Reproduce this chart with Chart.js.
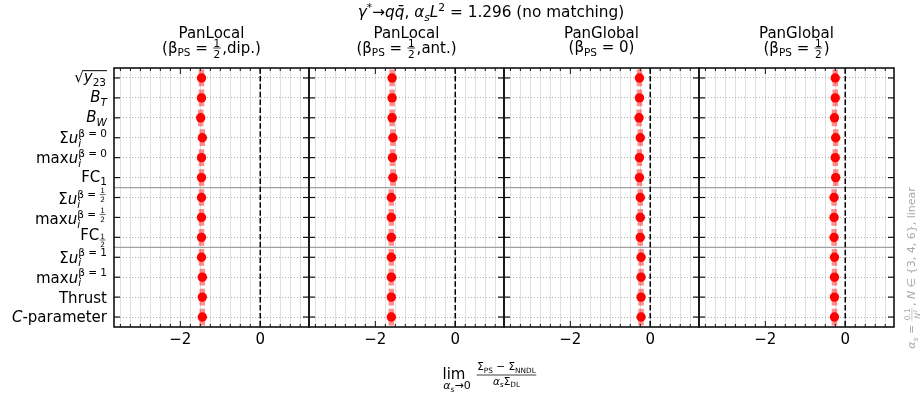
<!DOCTYPE html>
<html>
<head>
<meta charset="utf-8">
<script src="https://cdn.jsdelivr.net/npm/chart.js@4/dist/chart.umd.min.js"></script>
<style>
  html, body { margin: 0; padding: 0; background: #fff; }
  #wrap { position: relative; width: 922px; height: 394px; }
  #wrap canvas { position: absolute; left: 0; top: 0; }
</style>
</head>
<body>
<div id="wrap"></div>
<script>
// ~...~ = italique, _{..} indice, ^{..} exposant, √{..} racine, §{a}{b} fraction
const observables = [
    "√{~y~_{23}}", "~B~_{~T~}", "~B~_{~W~}",
    "Σ~u~_{~i~}^{β = 0}", "max~u~_{~i~}^{β = 0}", "FC_{1}",
    "Σ~u~_{~i~}^{β = §{1}{2}}", "max~u~_{~i~}^{β = §{1}{2}}", "FC_{§{1}{2}}",
    "Σ~u~_{~i~}^{β = 1}", "max~u~_{~i~}^{β = 1}", "Thrust", "~C~-parameter"
];
const groupSizes = [6, 3, 4];

const showers = ["PanLocal", "PanLocal", "PanGlobal", "PanGlobal"];
const showerOptions = ["(β_{PS} = §{1}{2},dip.)", "(β_{PS} = §{1}{2},ant.)", "(β_{PS} = 0)", "(β_{PS} = §{1}{2})"];

const panLocalDip   = [-1.47, -1.47, -1.49, -1.45, -1.47, -1.47, -1.47, -1.47, -1.47, -1.47, -1.45, -1.45, -1.45];
const panLocalAnt   = [-1.58, -1.58, -1.58, -1.56, -1.57, -1.56, -1.60, -1.60, -1.60, -1.60, -1.60, -1.60, -1.60];
const panGlobal0    = [-0.27, -0.27, -0.28, -0.25, -0.27, -0.27, -0.25, -0.25, -0.25, -0.23, -0.23, -0.23, -0.23];
const panGlobalHalf = [-0.25, -0.25, -0.27, -0.24, -0.25, -0.24, -0.28, -0.28, -0.28, -0.27, -0.27, -0.27, -0.27];
const series = [panLocalDip, panLocalAnt, panGlobal0, panGlobalHalf];

const xMin = -3.66, xMax = 1.22;
const xMajorTicks = [-2, 0];
const xMinorStep = 0.25;

const titre = "~γ~^{*}→~qq̄~, ~α~_{~s~}~L~^{2} = 1.296 (no matching)";
const noteCote = "~α~_{~s~} = §{0.1}{~N~^{2}}, ~N~ ∈ {3, 4, 6}, linear";
const titreX = "§{Σ_{PS} − Σ_{NNDL}}{~α~_{~s~}Σ_{DL}}";

const FONT = "'DejaVu Sans', sans-serif";
const GAUCHE = 114, LARGEUR = 195, HAUT = 68, BAS = 327;

// -------- texte enrichi --------
function groupe(s, i) {
    // s[i] === "{" ; renvoie [contenu, index après "}"]
    let depth = 0, j = i;
    for (; j < s.length; j++) {
        if (s[j] === "{") depth++;
        else if (s[j] === "}") { depth--; if (depth === 0) break; }
    }
    return [s.slice(i + 1, j), j + 1];
}

function parseRich(s) {
    const items = [];
    let italic = false, buf = "", i = 0;
    const flush = () => { if (buf) { items.push({ t: "txt", s: buf, it: italic }); buf = ""; } };
    while (i < s.length) {
        const c = s[i];
        if (c === "~") { flush(); italic = !italic; i++; }
        else if (c === "§" && s[i + 1] === "{") {
            flush();
            const [num, n1] = groupe(s, i + 1);
            const [den, n2] = groupe(s, n1);
            items.push({ t: "frac", num: parseRich(num), den: parseRich(den) });
            i = n2;
        }
        else if ((c === "_" || c === "^" || c === "√") && s[i + 1] === "{") {
            flush();
            const [inner, next] = groupe(s, i + 1);
            const sub = parseRich(inner);
            if (c === "√") items.push({ t: "sqrt", body: sub });
            else {
                const last = items[items.length - 1];
                if (last && last.t === "scr" && !last[c]) last[c] = sub;
                else items.push({ t: "scr", [c]: sub });
            }
            i = next;
        } else { buf += c; i++; }
    }
    flush();
    return items;
}

function rich(ctx, items, x, y, size, draw) {
    let cx = x, top = 0, bot = 0;
    for (const it of items) {
        if (it.t === "txt") {
            ctx.font = (it.it ? "italic " : "") + size + "px " + FONT;
            const m = ctx.measureText(it.s);
            if (draw) ctx.fillText(it.s, cx, y);
            top = Math.min(top, -m.actualBoundingBoxAscent);
            bot = Math.max(bot, m.actualBoundingBoxDescent);
            cx += m.width;
        } else if (it.t === "scr") {
            const ss = size * 0.7;
            let w = 0;
            if (it["^"]) {
                const dy = -size * 0.42;
                const r = rich(ctx, it["^"], cx, y + dy, ss, draw);
                w = Math.max(w, r.w); top = Math.min(top, dy + r.top); bot = Math.max(bot, dy + r.bot);
            }
            if (it["_"]) {
                const dy = size * 0.24;
                const r = rich(ctx, it["_"], cx, y + dy, ss, draw);
                w = Math.max(w, r.w); top = Math.min(top, dy + r.top); bot = Math.max(bot, dy + r.bot);
            }
            cx += w;
        } else if (it.t === "frac") {
            const fs = size * 0.7;
            const n = rich(ctx, it.num, 0, 0, fs, false);
            const d = rich(ctx, it.den, 0, 0, fs, false);
            const w = Math.max(n.w, d.w) + 2;
            const ly = y - size * 0.3;
            const gap = Math.max(1.2, size * 0.1);
            const nb = ly - gap - n.bot;
            const db = ly + gap - d.top;
            if (draw) {
                rich(ctx, it.num, cx + (w - n.w) / 2, nb, fs, true);
                rich(ctx, it.den, cx + (w - d.w) / 2, db, fs, true);
                ctx.beginPath();
                ctx.lineWidth = Math.max(0.6, size * 0.05);
                ctx.moveTo(cx + 0.5, ly);
                ctx.lineTo(cx + w - 0.5, ly);
                ctx.stroke();
            }
            top = Math.min(top, nb + n.top - y);
            bot = Math.max(bot, db + d.bot - y);
            cx += w + 1;
        } else if (it.t === "sqrt") {
            ctx.font = size + "px " + FONT;
            const m = ctx.measureText("√");
            if (draw) ctx.fillText("√", cx, y);
            const r = rich(ctx, it.body, cx + m.width, y, size, draw);
            const ly = y - m.actualBoundingBoxAscent + 0.5;
            if (draw) {
                ctx.beginPath();
                ctx.lineWidth = 1;
                ctx.moveTo(cx + m.width - 0.5, ly);
                ctx.lineTo(cx + m.width + r.w + 1, ly);
                ctx.stroke();
            }
            top = Math.min(top, -m.actualBoundingBoxAscent, r.top);
            bot = Math.max(bot, m.actualBoundingBoxDescent, r.bot);
            cx += m.width + r.w + 1;
        }
    }
    return { w: cx - x, top, bot };
}

// dessine centré verticalement autour de yc (align: 'center' | 'right')
function texte(ctx, str, x, yc, size, align, color) {
    const items = parseRich(str);
    ctx.fillStyle = color || "#000";
    ctx.strokeStyle = color || "#000";
    ctx.textAlign = "left";
    ctx.textBaseline = "alphabetic";
    const m = rich(ctx, items, 0, 0, size, false);
    const x0 = align === "right" ? x - m.w : x - m.w / 2;
    const base = yc - (m.top + m.bot) / 2;
    rich(ctx, items, x0, base, size, true);
    return m;
}

function ligne(ctx, x1, y1, x2, y2) {
    ctx.beginPath(); ctx.moveTo(x1, y1); ctx.lineTo(x2, y2); ctx.stroke();
}

// -------- décor de chaque panneau --------
const decor = {
    id: "decor",
    afterDraw(chart, args, opts) {
        const { ctx, chartArea: a, scales: { x, y } } = chart;
        ctx.save();

        ctx.strokeStyle = "#111";
        ctx.lineWidth = 1.6;
        ctx.strokeRect(a.left, a.top, a.right - a.left, a.bottom - a.top);

        ctx.lineWidth = 1.2;
        observables.forEach((_, k) => {
            const py = y.getPixelForValue(k);
            ligne(ctx, a.left, py, a.left + 6, py);
            ligne(ctx, a.right - 6, py, a.right, py);
        });
        ctx.lineWidth = 1;
        for (let k = Math.ceil(xMin / xMinorStep); k * xMinorStep <= xMax; k++) {
            const v = k * xMinorStep;
            const px = x.getPixelForValue(v);
            const len = xMajorTicks.includes(v) ? 6 : 3;
            ligne(ctx, px, a.top, px, a.top + len);
            ligne(ctx, px, a.bottom - len, px, a.bottom);
        }

        const cx = (a.left + a.right) / 2;
        texte(ctx, showers[opts.index], cx, 32, 15, "center");
        texte(ctx, showerOptions[opts.index], cx, 48, 15, "center");

        if (opts.index === 0) {
            observables.forEach((lab, k) => {
                texte(ctx, lab, a.left - 7, y.getPixelForValue(k), 15, "right");
            });
            texte(ctx, titre, 491, 12, 15.3, "center");

            // libellé de l'axe x
            texte(ctx, "lim", 454, 373, 15, "center");
            texte(ctx, "~α~_{~s~}→0", 457, 387, 11, "center");
            texte(ctx, titreX, 507, 375, 15, "center");

            ctx.save();
            ctx.translate(912, 268);
            ctx.rotate(-Math.PI / 2);
            texte(ctx, noteCote, 0, 0, 11, "center", "#a8a8a8");
            ctx.restore();
        }
        ctx.restore();
    }
};

// -------- panneaux --------
const separations = [];
groupSizes.reduce((acc, n, i) => {
    if (i < groupSizes.length - 1) separations.push(acc + n - 0.5);
    return acc + n;
}, 0);

const ticksX = [];
for (let k = Math.ceil(xMin / xMinorStep); k * xMinorStep <= xMax; k++) ticksX.push(k * xMinorStep);

function fmt(v) { return v < 0 ? "−" + Math.abs(v) : String(v); }

series.forEach((valeurs, i) => {
    const canvas = document.createElement("canvas");
    canvas.style.width = "922px";
    canvas.style.height = "394px";
    document.getElementById("wrap").appendChild(canvas);

    const datasets = [];
    datasets.push({
        data: valeurs.map((v, k) => ({ x: v, y: k })),
        showLine: false,
        pointRadius: 4.7,
        pointBackgroundColor: "#ff0000",
        pointBorderWidth: 0,
        order: 0
    });
    valeurs.forEach((v, k) => {
        datasets.push({
            data: [{ x: v, y: k - 0.42 }, { x: v, y: k + 0.42 }],
            showLine: true,
            borderColor: "rgba(255,30,30,0.5)",
            borderWidth: 5.5,
            borderCapStyle: "butt",
            pointRadius: 0,
            order: 1
        });
    });
    datasets.push({
        data: [{ x: 0, y: -0.5 }, { x: 0, y: observables.length - 0.5 }],
        showLine: true,
        borderColor: "#000",
        borderWidth: 1.5,
        borderDash: [5.5, 2.4],
        pointRadius: 0,
        order: 2
    });
    separations.forEach(s => {
        datasets.push({
            data: [{ x: xMin, y: s }, { x: xMax, y: s }],
            showLine: true,
            borderColor: "#a0a0a0",
            borderWidth: 1.3,
            pointRadius: 0,
            order: 3
        });
    });

    new Chart(canvas, {
        type: "scatter",
        data: { datasets },
        plugins: [decor],
        options: {
            responsive: false,
            animation: false,
            devicePixelRatio: 1,
            events: [],
            layout: {
                padding: { left: GAUCHE + i * LARGEUR, right: 922 - (GAUCHE + (i + 1) * LARGEUR), top: HAUT, bottom: 394 - BAS - 30 }
            },
            plugins: {
                legend: { display: false },
                tooltip: { enabled: false },
                decor: { index: i }
            },
            scales: {
                x: {
                    type: "linear",
                    min: xMin,
                    max: xMax,
                    afterBuildTicks: s => { s.ticks = ticksX.map(v => ({ value: v })); },
                    afterFit: s => { s.height = 30; },
                    ticks: {
                        autoSkip: false,
                        maxRotation: 0,
                        padding: 4,
                        color: "#000",
                        font: { family: FONT, size: 15 },
                        callback: v => xMajorTicks.includes(v) ? fmt(v) : ""
                    },
                    grid: { color: "#e0e0e0", lineWidth: 1, drawTicks: false },
                    border: { display: false }
                },
                y: {
                    type: "linear",
                    reverse: true,
                    min: -0.5,
                    max: observables.length - 0.5,
                    afterBuildTicks: s => { s.ticks = observables.map((_, k) => ({ value: k })); },
                    afterFit: s => { s.width = 0; },
                    ticks: { display: false },
                    grid: { color: "#b0b0b0", lineWidth: 1, drawTicks: false },
                    border: { display: false, dash: [1, 2] }
                }
            }
        }
    });
});
</script>
</body>
</html>
